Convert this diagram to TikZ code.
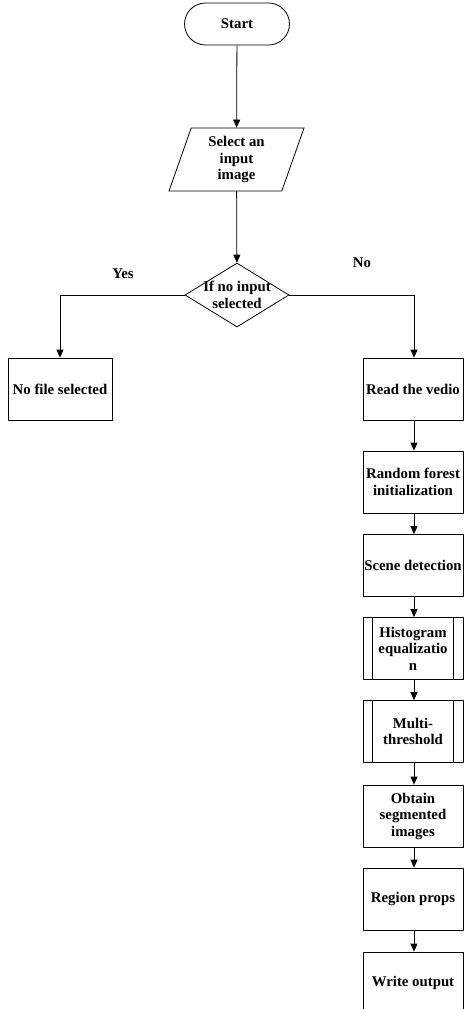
\documentclass[tikz,border=0pt]{standalone}
\usepackage{fontspec}
\setmainfont{Liberation Serif}
\usetikzlibrary{shapes.geometric,arrows.meta}
\begin{document}
\begin{tikzpicture}[x=1pt,y=-1pt,
  every node/.style={font=\fontsize{14.8}{16.5}\selectfont\bfseries, align=center},
  flow/.style={draw, line width=0.8pt},
  arr/.style={draw, line width=0.8pt, -{Triangle[width=7pt,length=8pt]}},
  procbox/.style={flow, rectangle, minimum width=100pt, minimum height=62pt, inner sep=1pt},
  sidebar/.style={line width=0.8pt},
  termbox/.style={flow, rectangle, rounded corners=21pt, minimum width=105pt, minimum height=42pt},
  iobox/.style={flow, trapezium, trapezium left angle=64.5, trapezium right angle=115.5,
     trapezium stretches body, minimum width=135pt, minimum height=63pt, inner sep=0pt},
  decbox/.style={flow, diamond, minimum width=104pt, minimum height=64pt, inner sep=0pt}
]
\useasboundingbox (0,0) rectangle (464,1009);
\clip (0,0) rectangle (464,1009);

% main trunk
\node[termbox] (start) at (237,24) {Start};
\node[iobox] (sel) at (236.5,159.5) {Select an\\input\\image};
\node[decbox] (dec) at (237,295) {};
\node (dectext) at (237,295) {If no input\\selected};

% branches
\node[procbox, minimum width=104pt] (nofile) at (60,389) {No file selected};
\node (yes) at (123,274) {Yes};
\node (no) at (362,263) {No};

% processing column
\node[procbox] (read)  at (413,389) {Read the vedio};
\node[procbox] (rf)    at (413,482) {Random forest\\initialization};
\node[procbox] (scene) at (413,565.5) {Scene detection};
\node[procbox] (hist)  at (413,648.5) {Histogram\\equalizatio\\n};
\draw[sidebar] ([xshift=10pt]hist.north west) -- ([xshift=10pt]hist.south west)
               ([xshift=-10pt]hist.north east) -- ([xshift=-10pt]hist.south east);
\node[procbox] (multi) at (413,731.5) {Multi-\\threshold};
\draw[sidebar] ([xshift=10pt]multi.north west) -- ([xshift=10pt]multi.south west)
               ([xshift=-10pt]multi.north east) -- ([xshift=-10pt]multi.south east);
\node[procbox] (seg)   at (413,816) {Obtain\\segmented\\images};
\node[procbox] (props) at (413,899) {Region props};
\node[procbox] (out)   at (413,983) {Write output};

% connectors
\draw[arr] (start) -- (sel);
\draw[arr] (sel) -- (dec);
\draw[arr] (dec.west) -| (nofile.north);
\draw[arr] (dec.east) -| ([xshift=1pt]read.north);
\draw[arr] ([xshift=1pt]read.south) -- ([xshift=1pt]rf.north);
\draw[arr] ([xshift=1pt]rf.south) -- ([xshift=1pt]scene.north);
\draw[arr] ([xshift=1pt]scene.south) -- ([xshift=1pt]hist.north);
\draw[arr] ([xshift=1pt]hist.south) -- ([xshift=1pt]multi.north);
\draw[arr] ([xshift=1pt]multi.south) -- ([xshift=1pt]seg.north);
\draw[arr] ([xshift=1pt]seg.south) -- ([xshift=1pt]props.north);
\draw[arr] ([xshift=1pt]props.south) -- ([xshift=1pt]out.north);
\end{tikzpicture}
\end{document}
